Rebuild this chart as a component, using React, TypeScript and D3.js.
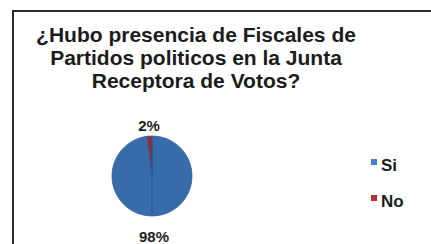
import React, { useEffect, useRef } from 'react';
import * as d3 from 'd3';

const titleLines: string[] = [
    '¿Hubo presencia de Fiscales de',
    'Partidos politicos en la Junta',
    'Receptora de Votos?',
];
const categories: string[] = ['Si', 'No'];
const values: number[] = [98, 2];
const colors: string[] = ['#4380ca', '#b8302f'];

const App: React.FC = () => {
    const ref = useRef<SVGSVGElement | null>(null);

    useEffect(() => {
        const el = ref.current;
        if (!el) return;
        const width = 431;
        const height = 244;
        const svg = d3.select(el);
        svg.selectAll('*').remove();

        const cx = 152;
        const cy = 176;
        const r = 40;

        const defs = svg.append('defs');
        colors.forEach((c, i) => {
            const g = defs.append('radialGradient')
                .attr('id', `grad${i}`)
                .attr('gradientUnits', 'userSpaceOnUse')
                .attr('cx', cx).attr('cy', cy - 4).attr('r', r + 3);
            g.append('stop').attr('offset', '0%').attr('stop-color', d3.color(c)!.brighter(0.15).toString());
            g.append('stop').attr('offset', '80%').attr('stop-color', c);
            g.append('stop').attr('offset', '100%').attr('stop-color', d3.color(c)!.darker(0.5).toString());
        });

        svg.append('rect')
            .attr('width', width).attr('height', height)
            .attr('fill', '#ffffff');

        // frame
        svg.append('path')
            .attr('d', `M13,${height} L13,11 L${width},11`)
            .attr('fill', 'none')
            .attr('stroke', '#2a2a2a')
            .attr('stroke-width', 2);

        const font = 'Liberation Sans, Arial, sans-serif';

        svg.append('g')
            .selectAll('text')
            .data(titleLines)
            .enter()
            .append('text')
            .attr('x', 196)
            .attr('y', (_, i) => 42 + i * 23)
            .attr('text-anchor', 'middle')
            .attr('font-family', font)
            .attr('font-weight', 'bold')
            .attr('font-size', 21)
            .attr('fill', '#1c1c1c')
            .text((d) => d);

        const pie = d3.pie<number>().sort(null).value((d) => d);
        const arcs = pie(values);
        const arc = d3.arc<d3.PieArcDatum<number>>().innerRadius(0).outerRadius(r);

        const g = svg.append('g').attr('transform', `translate(${cx},${cy})`);
        g.selectAll('path')
            .data(arcs)
            .enter()
            .append('path')
            .attr('d', arc)
            .attr('fill', (_, i) => `url(#grad${i})`)
            .attr('stroke', '#2f60a0')
            .attr('stroke-width', 0.8);

        // darker seam down the middle of the pie
        g.append('line')
            .attr('x1', 0).attr('y1', -r + 4)
            .attr('x2', 0).attr('y2', r - 2)
            .attr('stroke', '#22508e')
            .attr('stroke-width', 1.2)
            .attr('opacity', 0.6);

        // percentage labels
        const labelPos = [
            [154, 242],
            [149, 131],
        ];
        g.selectAll('text')
            .data(arcs)
            .enter()
            .append('text')
            .attr('x', (_, i) => labelPos[i][0] - cx)
            .attr('y', (_, i) => labelPos[i][1] - cy)
            .attr('text-anchor', 'middle')
            .attr('font-family', font)
            .attr('font-weight', 'bold')
            .attr('font-size', 15)
            .attr('fill', '#1c1c1c')
            .text((d) => `${d.data}%`);

        const legend = svg.append('g');
        const items = legend.selectAll('g')
            .data(categories)
            .enter()
            .append('g')
            .attr('transform', (_, i) => `translate(371,${159 + i * 36})`);
        items.append('rect')
            .attr('width', 6).attr('height', 6)
            .attr('fill', (_, i) => colors[i]);
        items.append('text')
            .attr('x', 10)
            .attr('y', 12)
            .attr('font-family', font)
            .attr('font-weight', 'bold')
            .attr('font-size', 17)
            .attr('fill', '#1c1c1c')
            .text((d) => d);
    }, []);

    return (
        <svg
            ref={ref}
            width={431}
            height={244}
            style={{ position: 'absolute', left: 0, top: 0, display: 'block' }}
        />
    );
};

export default App;
